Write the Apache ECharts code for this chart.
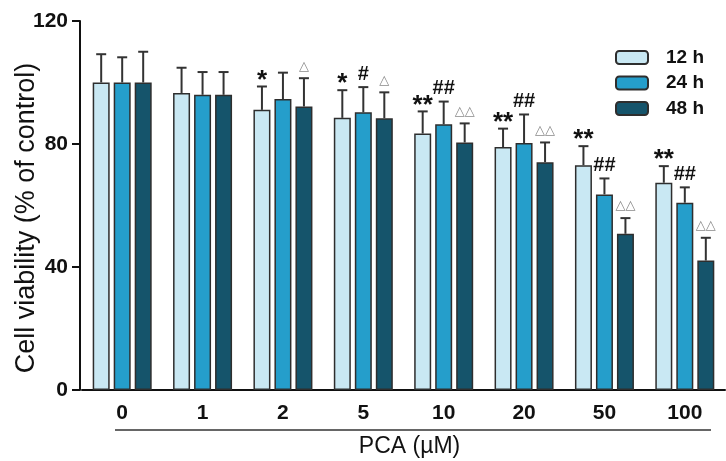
<!DOCTYPE html>
<html>
<head>
<meta charset="utf-8">
<script src="https://cdn.jsdelivr.net/npm/echarts@6/dist/echarts.min.js"></script>
<style>
  html, body { margin: 0; padding: 0; background: #fff; }
  #chart { width: 726px; height: 461px; }
</style>
</head>
<body>
<div id="chart"></div>
<script>
const categories = ["0", "1", "2", "5", "10", "20", "50", "100"];
const seriesNames = ["12 h", "24 h", "48 h"];

const mean12 = [100, 96.6, 91.1, 88.5, 83.4, 79.0, 73.1, 67.4];
const mean24 = [100, 96.0, 94.6, 90.3, 86.4, 80.3, 63.6, 60.9];
const mean48 = [100, 96.0, 92.2, 88.4, 80.5, 74.1, 50.8, 42.1];

const sd12 = [9.2, 8.2, 7.6, 9.0, 7.2, 6.0, 6.2, 5.4];
const sd24 = [8.2, 7.4, 8.6, 8.2, 7.4, 9.3, 5.2, 5.0];
const sd48 = [10.0, 7.4, 9.2, 8.4, 6.2, 6.4, 5.1, 7.4];

const mark12 = ["", "", "*", "*", "**", "**", "**", "**"];
const mark24 = ["", "", "", "#", "##", "##", "##", "##"];
const mark48 = ["", "", "\u25B3", "\u25B3", "\u25B3\u25B3", "\u25B3\u25B3", "\u25B3\u25B3", "\u25B3\u25B3"];

const yTicks = [0, 40, 80, 120];

const colors = ["#c9e8f3", "#259ecb", "#15546b"];
const means = [mean12, mean24, mean48];
const sds = [sd12, sd24, sd48];
const marks = [mark12, mark24, mark48];

const FONT = "'Liberation Sans', Arial, sans-serif";
const BAR_W = 17;
const BAR_GAP = 4;

const chart = echarts.init(document.getElementById("chart"));

const barSeries = seriesNames.map((name, s) => ({
    name: name,
    type: "bar",
    data: means[s],
    barWidth: BAR_W,
    barGap: (BAR_GAP / BAR_W * 100) + "%",
    itemStyle: {
        color: colors[s],
        borderColor: "#2e2e2e",
        borderWidth: 1.5,
    },
    z: 2,
}));

const markStyle = (txt) => {
    if (txt.indexOf("\u25B3") >= 0) {
        return { font: "13px 'DejaVu Sans', sans-serif", fill: "#8a8a8a", dy: -12 };
    }
    if (txt.indexOf("*") >= 0) {
        return { font: "bold 26px " + FONT, fill: "#111", dy: -6 };
    }
    return { font: "bold 20px " + FONT, fill: "#111", dy: -13 };
};

const errSeries = seriesNames.map((name, s) => ({
    type: "custom",
    name: name + " err",
    data: means[s].map((m, i) => [i, m, m + sds[s][i]]),
    z: 5,
    renderItem: (params, api) => {
        const i = api.value(0);
        const base = api.coord([i, api.value(1)]);
        const top = api.coord([i, api.value(2)]);
        const x = base[0] + (s - 1) * (BAR_W + BAR_GAP);
        const txt = marks[s][params.dataIndex];
        const children = [
            { type: "line", shape: { x1: x, y1: base[1], x2: x, y2: top[1] },
              style: { stroke: "#333", lineWidth: 2 } },
            { type: "line", shape: { x1: x - 5, y1: top[1], x2: x + 5, y2: top[1] },
              style: { stroke: "#333", lineWidth: 2 } },
        ];
        if (txt) {
            const st = markStyle(txt);
            children.push({
                type: "text",
                style: {
                    text: txt, x: x, y: top[1] + st.dy,
                    font: st.font, fill: st.fill,
                    align: "center", verticalAlign: "middle",
                },
            });
        }
        return { type: "group", children: children };
    },
}));

const option = {
    animation: false,
    grid: { left: 82, right: 1, top: 21, bottom: 71, outerBoundsMode: "none", containLabel: false },
    legend: {
        data: seriesNames,
        orient: "vertical",
        left: 615,
        top: 48,
        padding: 0,
        itemWidth: 32,
        itemHeight: 13,
        itemGap: 6.5,
        textStyle: {
            fontFamily: FONT,
            fontSize: 19,
            fontWeight: "bold",
            color: "#111",
            padding: [0, 0, 0, 13],
        },
    },
    xAxis: {
        type: "category",
        data: categories,
        name: "PCA (\u00B5M)",
        nameLocation: "middle",
        nameGap: 45,
        nameMoveOverlap: false,
        nameTextStyle: { fontFamily: FONT, fontSize: 23, color: "#111", padding: [0, 0, 0, 12] },
        axisLine: { lineStyle: { color: "#111", width: 2 } },
        axisTick: { alignWithLabel: true, length: 8, lineStyle: { color: "#111", width: 2 } },
        axisLabel: { fontFamily: FONT, fontSize: 21, fontWeight: "bold", color: "#111", margin: 13 },
    },
    yAxis: {
        type: "value",
        min: yTicks[0],
        max: yTicks[yTicks.length - 1],
        interval: yTicks[1] - yTicks[0],
        offset: 2,
        name: "Cell viability (% of control)",
        nameLocation: "middle",
        nameGap: 40,
        nameMoveOverlap: false,
        nameTextStyle: { fontFamily: FONT, fontSize: 27, color: "#111", padding: [0, 25, 0, 0] },
        axisLine: { show: true, lineStyle: { color: "#111", width: 2 } },
        axisTick: { show: true, length: 8, lineStyle: { color: "#111", width: 2 } },
        axisLabel: { fontFamily: FONT, fontSize: 21, fontWeight: "bold", color: "#111", margin: 12 },
        splitLine: { show: false },
    },
    graphic: [
        { type: "line", shape: { x1: 115, y1: 430, x2: 711, y2: 430 },
          style: { stroke: "#333", lineWidth: 1.5 } },
    ],
    series: [...barSeries, ...errSeries],
};

chart.setOption(option);
</script>
</body>
</html>
